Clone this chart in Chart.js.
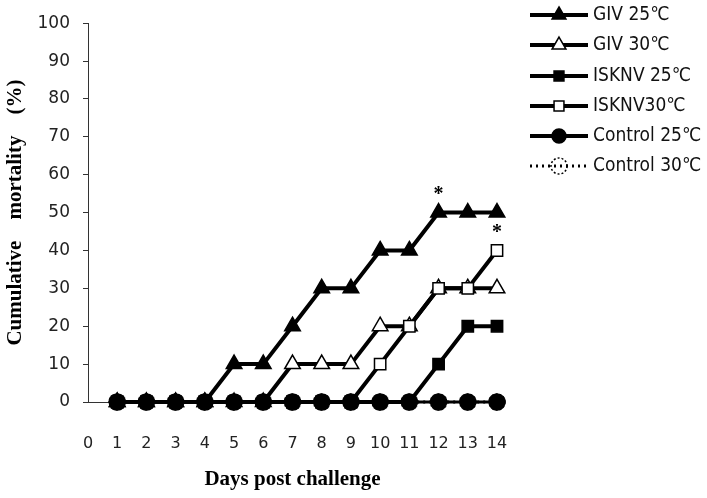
<!DOCTYPE html>
<html>
<head>
<meta charset="utf-8">
<script src="https://cdn.jsdelivr.net/npm/chart.js@4.4.1/dist/chart.umd.min.js"></script>
<style>
    html, body { margin: 0; padding: 0; background: #fff; }
    #wrap { width: 707px; height: 498px; }
</style>
</head>
<body>
<div id="wrap"><canvas id="mortalityChart" width="707" height="498"></canvas></div>
<script>
// days post challenge
const days = [1, 2, 3, 4, 5, 6, 7, 8, 9, 10, 11, 12, 13, 14];

// cumulative mortality (%)
const giv25 = [0, 0, 0, 0, 10, 10, 20, 30, 30, 40, 40, 50, 50, 50];
const giv30 = [0, 0, 0, 0, 0, 0, 10, 10, 10, 20, 20, 30, 30, 30];
const isknv25 = [0, 0, 0, 0, 0, 0, 0, 0, 0, 0, 0, 10, 20, 20];
const isknv30 = [0, 0, 0, 0, 0, 0, 0, 0, 0, 10, 20, 30, 30, 40];
const control25 = [0, 0, 0, 0, 0, 0, 0, 0, 0, 0, 0, 0, 0, 0];
const control30 = [0, 0, 0, 0, 0, 0, 0, 0, 0, 0, 0, 0, 0, 0];

const seriesNames = ['GIV 25℃', 'GIV 30℃', 'ISKNV 25℃', 'ISKNV30℃', 'Control 25℃', 'Control 30℃'];

// significance marks (day, value)
const sigDays = [12, 14];
const sigValues = [50, 40];

const yTicks = [0, 10, 20, 30, 40, 50, 60, 70, 80, 90, 100];

// dashed open circle used for Control 30
function dashedCircle(r) {
    const c = document.createElement('canvas');
    const s = r * 2 + 4;
    c.width = s; c.height = s;
    const g = c.getContext('2d');
    g.setLineDash([2, 2]);
    g.lineWidth = 1.5;
    g.strokeStyle = '#000';
    g.beginPath();
    g.arc(s / 2, s / 2, r, 0, Math.PI * 2);
    g.stroke();
    return c;
}
const dashedDot = dashedCircle(8);

const toPoints = arr => days.map((d, i) => ({ x: d, y: arr[i] }));

const datasets = [
    { data: giv25, pointStyle: 'triangle', radius: 9, fill: '#000', width: 4, dash: [] },
    { data: giv30, pointStyle: 'triangle', radius: 9, fill: '#fff', width: 4, dash: [] },
    { data: isknv25, pointStyle: 'rect', radius: 8, fill: '#000', width: 4, dash: [] },
    { data: isknv30, pointStyle: 'rect', radius: 8, fill: '#fff', width: 4, dash: [] },
    { data: control25, pointStyle: 'circle', radius: 8, fill: '#000', width: 3, dash: [] },
    { data: control30, pointStyle: dashedDot, radius: 9, fill: 'rgba(0,0,0,0)', width: 3, dash: [2, 4] }
].map((s, i) => ({
    label: seriesNames[i],
    data: toPoints(s.data),
    borderColor: '#000',
    borderWidth: s.width,
    borderDash: s.dash,
    pointStyle: s.pointStyle,
    pointRadius: s.radius,
    pointHoverRadius: s.radius,
    pointBackgroundColor: s.fill,
    pointBorderColor: '#000',
    pointBorderWidth: 1.5,
    order: 6 - i,
    clip: false,
    tension: 0
}));

// legend on the right: line sample with marker in the middle
const sideLegend = {
    id: 'sideLegend',
    afterDraw(chart) {
        const ctx = chart.ctx;
        const x0 = 530, x1 = 588, textX = 593;
        const rowY = [15, 45, 76, 106, 136, 166];
        chart.data.datasets.forEach((ds, i) => {
            const y = rowY[i];
            ctx.save();
            ctx.strokeStyle = '#000';
            ctx.lineWidth = ds.borderDash.length ? 3 : 4;
            ctx.setLineDash(ds.borderDash);
            ctx.beginPath();
            ctx.moveTo(x0, y);
            ctx.lineTo(x1, y);
            ctx.stroke();
            ctx.setLineDash([]);
            ctx.fillStyle = ds.pointBackgroundColor;
            ctx.strokeStyle = '#000';
            ctx.lineWidth = 1.5;
            Chart.helpers.drawPoint(ctx, {
                pointStyle: ds.pointStyle,
                radius: ds.pointRadius - 1,
                rotation: 0,
                borderWidth: 1.5
            }, (x0 + x1) / 2, y);
            ctx.fillStyle = '#111';
            ctx.font = '19px "DejaVu Sans Condensed", "DejaVu Sans", sans-serif';
            ctx.textBaseline = 'middle';
            ctx.fillText(ds.label, textX, y);
            ctx.restore();
        });
    }
};

// asterisks above significant points
const sigMarks = {
    id: 'sigMarks',
    afterDatasetsDraw(chart) {
        const ctx = chart.ctx;
        const xs = chart.scales.x, ys = chart.scales.y;
        ctx.save();
        ctx.fillStyle = '#000';
        ctx.font = 'bold 20px "Liberation Serif", serif';
        ctx.textAlign = 'center';
        ctx.textBaseline = 'middle';
        sigDays.forEach((d, i) => {
            ctx.fillText('*', xs.getPixelForValue(d), ys.getPixelForValue(sigValues[i]) - 18);
        });
        ctx.restore();
    }
};

new Chart(document.getElementById('mortalityChart').getContext('2d'), {
    type: 'line',
    data: { datasets },
    plugins: [sideLegend, sigMarks],
    options: {
        responsive: false,
        animation: false,
        events: [],
        layout: { padding: { top: 13, right: 210, left: 0, bottom: 0 } },
        plugins: { legend: { display: false }, tooltip: { enabled: false } },
        scales: {
            x: {
                type: 'linear',
                min: 0,
                max: 14,
                afterFit: s => { s.height = 96; },
                grid: { display: true, drawOnChartArea: false, drawTicks: false },
                border: { color: '#333', width: 1 },
                ticks: {
                    stepSize: 1,
                    padding: 32,
                    color: '#222',
                    maxRotation: 0,
                    autoSkip: false,
                    font: { family: '"DejaVu Sans", sans-serif', size: 16 }
                },
                title: {
                    display: true,
                    text: 'Days post challenge',
                    color: '#000',
                    padding: { top: 0, bottom: 6 },
                    font: { family: '"Liberation Serif", serif', size: 21, weight: 'bold' }
                }
            },
            y: {
                min: 0,
                max: 100,
                afterFit: s => { s.width = 88; },
                afterBuildTicks: s => { s.ticks = yTicks.map(v => ({ value: v })); },
                grid: { drawOnChartArea: false, drawTicks: true, tickLength: 5, color: '#333' },
                border: { color: '#333', width: 1 },
                ticks: {
                    padding: 13,
                    color: '#222',
                    font: { family: '"DejaVu Sans", sans-serif', size: 17 }
                },
                title: {
                    display: true,
                    text: 'Cumulative    mortality    (%)',
                    color: '#000',
                    padding: { top: 3, bottom: 0 },
                    font: { family: '"Liberation Serif", serif', size: 21, weight: 'bold' }
                }
            }
        }
    }
});
</script>
</body>
</html>
